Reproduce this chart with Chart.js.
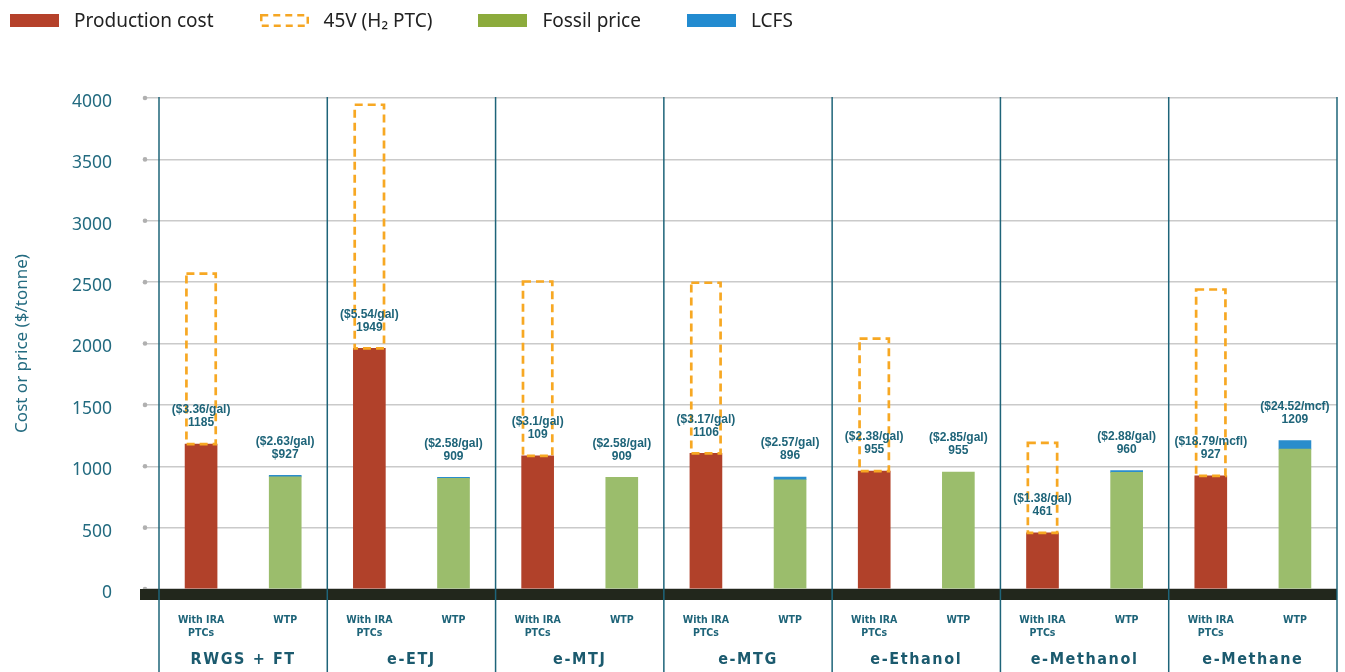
<!DOCTYPE html>
<html>
<head>
<meta charset="utf-8">
<script src="https://cdn.jsdelivr.net/npm/chart.js@4.4.1/dist/chart.umd.min.js"></script>
<style>
body { margin: 0; background: #fff; }
#wrap { position: relative; width: 1345px; height: 672px; }
#legend { position: absolute; left: 10px; top: 7px; font-family: 'Noto Sans', sans-serif; font-size: 19px; color: #222; display: flex; align-items: center; z-index: 2; }
.item { display: flex; align-items: center; margin-right: 46px; }
.sw { width: 49px; height: 13px; margin-right: 15px; }
</style>
</head>
<body>
<div id="wrap">
  <div id="legend">
    <div class="item"><div class="sw" style="background:#b5412a"></div>Production cost</div>
    <div class="item"><svg class="sw" width="49" height="13"><rect x="1.25" y="1.25" width="46.5" height="10.5" fill="none" stroke="#f5a623" stroke-width="2.5" stroke-dasharray="7,5"/></svg>45V (H₂ PTC)</div>
    <div class="item"><div class="sw" style="background:#8cab3c"></div>Fossil price</div>
    <div class="item"><div class="sw" style="background:#228bd0"></div>LCFS</div>
  </div>
  <canvas id="chart" width="1345" height="672"></canvas>
</div>
<script>
// values, $/tonne
const groups = ['RWGS + FT', 'e-ETJ', 'e-MTJ', 'e-MTG', 'e-Ethanol', 'e-Methanol', 'e-Methane'];
const pathwayLabels = [['With IRA', 'PTCs'], 'WTP'];
const productionCost = [1180, 1960, 1085, 1105, 960, 458, 922];
const ptcTop = [2570, 3945, 2505, 2495, 2040, 1190, 2440];
const fossilPrice = [913, 901, 909, 890, 953, 950, 1140];
const lcfs = [14, 8, 0, 22, 0, 14, 69];
const costPerUnit = ['($3.36/gal)', '($5.54/gal)', '($3.1/gal)', '($3.17/gal)', '($2.38/gal)', '($1.38/gal)', '($18.79/mcfl)'];
const costValue = ['1185', '1949', '109', '1106', '955', '461', '927'];
const wtpPerUnit = ['($2.63/gal)', '($2.58/gal)', '($2.58/gal)', '($2.57/gal)', '($2.85/gal)', '($2.88/gal)', '($24.52/mcf)'];
const wtpValue = ['$927', '909', '909', '896', '955', '960', '1209'];
const yTicks = [0, 500, 1000, 1500, 2000, 2500, 3000, 3500, 4000];

const TEAL = '#1e6479';

// two bars per fuel: IRA case then WTP
var labels = [], costData = [], ptcData = [], fossilData = [], lcfsData = [];
for (var i = 0; i < groups.length; i++) {
    labels.push(pathwayLabels[0], pathwayLabels[1]);
    costData.push(productionCost[i], null);
    ptcData.push(ptcTop[i] - productionCost[i], null);
    fossilData.push(null, fossilPrice[i]);
    lcfsData.push(null, lcfs[i] || null);
}

const decorations = {
    id: 'decorations',
    beforeDatasetsDraw(chart) {
        const ctx = chart.ctx, y = chart.scales.y, area = chart.chartArea;
        ctx.save();
        ctx.fillStyle = '#b0b0b0';
        yTicks.forEach(function (t) {
            ctx.beginPath();
            ctx.arc(area.left - 14, y.getPixelForValue(t), 2.3, 0, Math.PI * 2);
            ctx.fill();
        });
        ctx.restore();
    },
    afterDatasetsDraw(chart) {
        const ctx = chart.ctx, x = chart.scales.x, y = chart.scales.y, area = chart.chartArea;
        ctx.save();
        // dashed 45V boxes
        const meta = chart.getDatasetMeta(1);
        ctx.strokeStyle = '#f7a823';
        ctx.lineWidth = 2.7;
        ctx.setLineDash([8, 5]);
        meta.data.forEach(function (bar, idx) {
            if (ptcData[idx] == null) return;
            const w = bar.width;
            ctx.strokeRect(bar.x - w / 2 + 1.35, bar.y, w - 2.7, bar.base - bar.y);
        });
        ctx.setLineDash([]);

        // black base band
        ctx.fillStyle = '#22271c';
        ctx.fillRect(area.left - 19, area.bottom, area.right - area.left + 19, 11);

        // separators between fuels
        ctx.strokeStyle = TEAL;
        ctx.lineWidth = 1.5;
        for (var g = 0; g <= groups.length; g++) {
            var px;
            if (g === 0) px = area.left;
            else if (g === groups.length) px = area.right;
            else px = (x.getPixelForValue(2 * g - 1) + x.getPixelForValue(2 * g)) / 2;
            ctx.beginPath();
            ctx.moveTo(px, area.top - 1);
            ctx.lineTo(px, chart.height);
            ctx.stroke();
        }

        // value labels
        ctx.fillStyle = TEAL;
        ctx.font = 'bold 12px "Liberation Sans", sans-serif';
        ctx.textAlign = 'center';
        ctx.textBaseline = 'middle';
        for (var i = 0; i < groups.length; i++) {
            var cx = x.getPixelForValue(2 * i);
            var top = y.getPixelForValue(productionCost[i]);
            ctx.fillText(costPerUnit[i], cx, top - 34);
            ctx.fillText(costValue[i], cx, top - 21);
            cx = x.getPixelForValue(2 * i + 1);
            top = y.getPixelForValue(fossilPrice[i] + lcfs[i]);
            ctx.fillText(wtpPerUnit[i], cx, top - 34);
            ctx.fillText(wtpValue[i], cx, top - 21);
        }

        // fuel names
        ctx.font = 'bold 16px "DejaVu Sans Condensed", "Liberation Sans Narrow", sans-serif';
        ctx.letterSpacing = '1.6px';
        ctx.fillStyle = '#1b5a6e';
        for (var i = 0; i < groups.length; i++) {
            var gx = (x.getPixelForValue(2 * i) + x.getPixelForValue(2 * i + 1)) / 2;
            ctx.fillText(groups[i], gx, 660);
        }
        ctx.restore();
    }
};

const ctx = document.getElementById('chart').getContext('2d');
const chart = new Chart(ctx, {
    type: 'bar',
    data: {
        labels: labels,
        datasets: [
            { label: 'Production cost', data: costData, backgroundColor: '#b1412a', barThickness: 32 },
            { label: '45V (H2 PTC)', data: ptcData, backgroundColor: 'rgba(0,0,0,0)', barThickness: 32 },
            { label: 'Fossil price', data: fossilData, backgroundColor: '#9bbd6c', barThickness: 32 },
            { label: 'LCFS', data: lcfsData, backgroundColor: '#2a8dcc', barThickness: 32 }
        ]
    },
    options: {
        responsive: false,
        animation: false,
        layout: { padding: { top: 98, right: 8, left: 0, bottom: 0 } },
        plugins: { legend: { display: false }, tooltip: { enabled: false } },
        scales: {
            x: {
                stacked: true,
                grid: { display: false, drawTicks: false },
                border: { display: false },
                ticks: {
                    color: TEAL,
                    font: { family: '"Liberation Sans Narrow", "DejaVu Sans Condensed", sans-serif', size: 10.5, weight: 'bold' },
                    padding: 25,
                    maxRotation: 0,
                    autoSkip: false
                },
                afterFit: function (s) { s.height = 83; }
            },
            y: {
                stacked: true,
                min: 0,
                max: 4000,
                ticks: {
                    stepSize: 500,
                    color: '#236b80',
                    padding: 33,
                    labelOffset: 4,
                    font: { family: '"Noto Sans", sans-serif', size: 17.5 },
                    callback: function (v) { return String(v); }
                },
                grid: { color: '#cacaca', lineWidth: 1.5, tickLength: 14 },
                border: { display: false },
                title: {
                    display: true,
                    text: 'Cost or price ($/tonne)',
                    color: '#236b80',
                    font: { family: '"Noto Sans", sans-serif', size: 17 },
                    padding: { top: 12, bottom: 0 }
                },
                afterFit: function (s) { s.width = 159; }
            }
        }
    },
    plugins: [decorations]
});
</script>
</body>
</html>
